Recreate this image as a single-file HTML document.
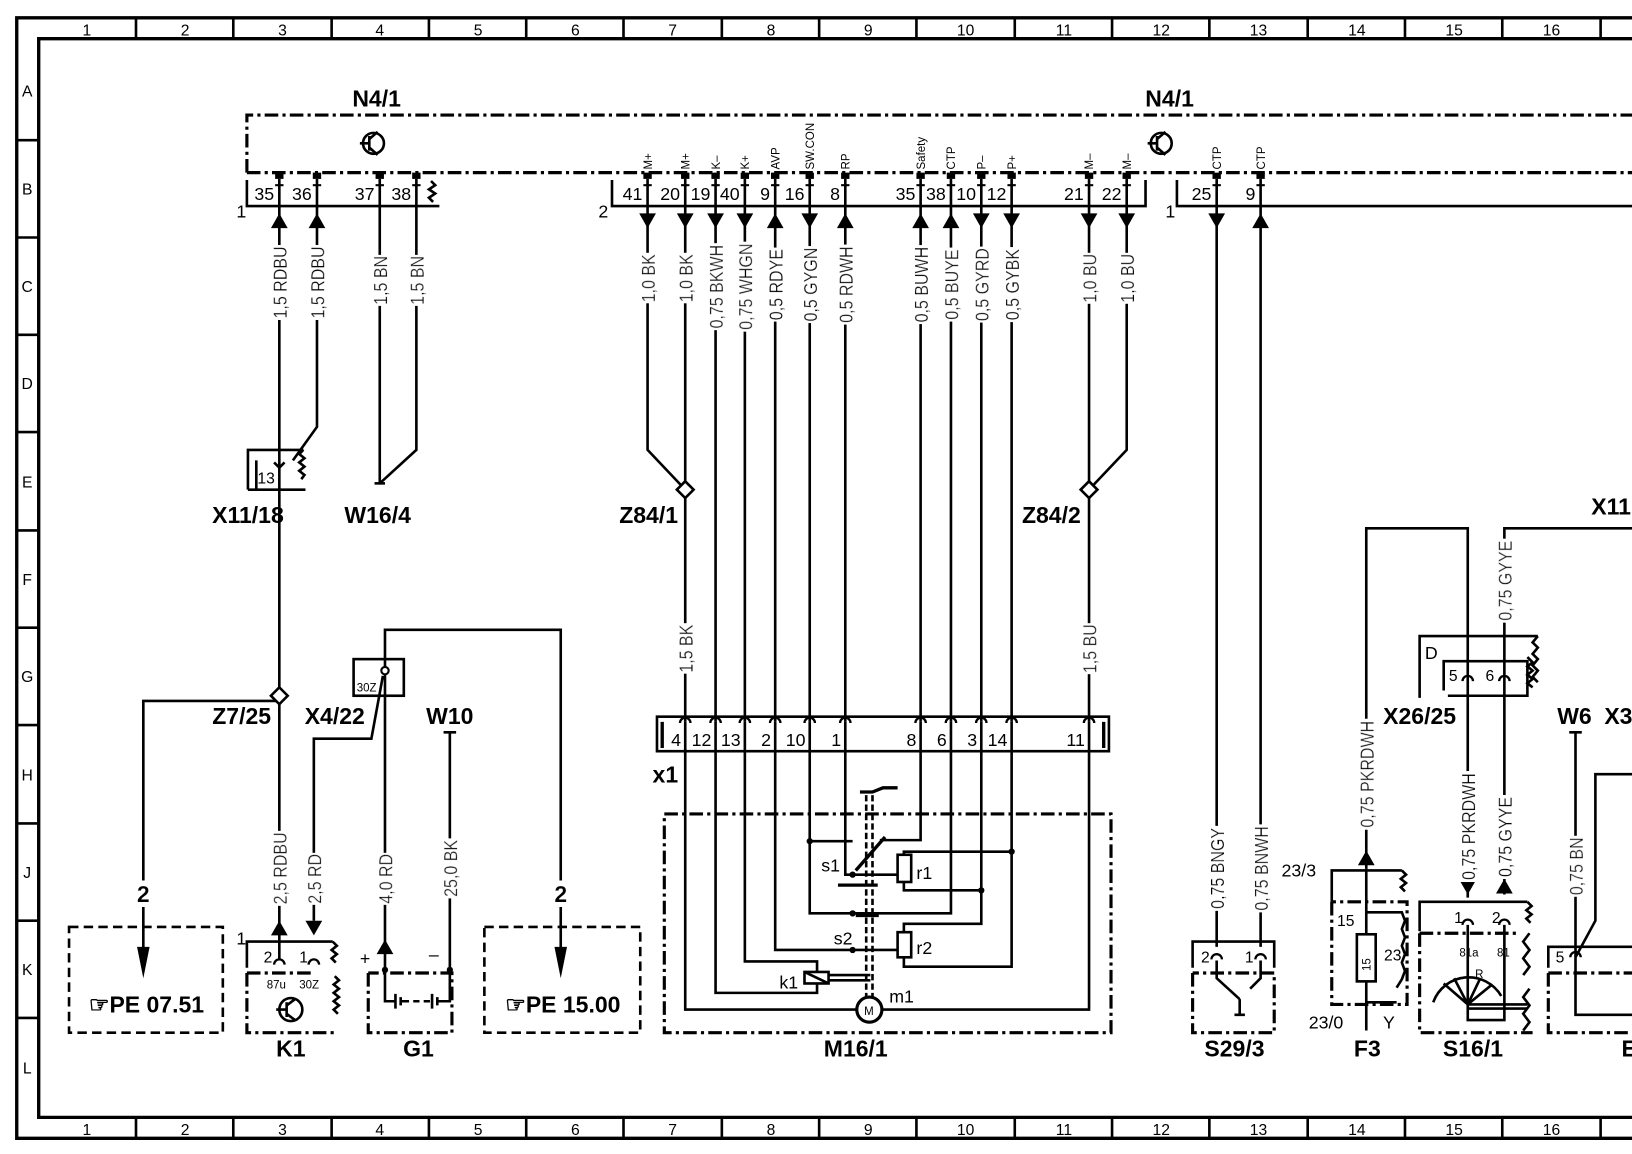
<!DOCTYPE html>
<html><head><meta charset="utf-8"><style>
html,body{margin:0;padding:0;background:#fff;width:1632px;height:1154px;overflow:hidden}
svg{display:block}
text{font-family:"Liberation Sans Narrow","Liberation Sans",sans-serif;fill:#000}
.s{font-size:15px}
.m{font-size:17px}
.b{font-size:22px;font-weight:bold}
.w{font-size:18px}
.tiny{font-size:11px}
.l{stroke:#000;stroke-width:2.5;fill:none}
.f{stroke:#000;stroke-width:3.2;fill:none}
.dd{stroke:#000;stroke-width:3;fill:none;stroke-dasharray:13 4 3 4}
.ds{stroke:#000;stroke-width:2.5;fill:none;stroke-dasharray:9 5}
</style></head><body>
<svg width="1632" height="1154" viewBox="0 0 1560 1103" preserveAspectRatio="none" xmlns="http://www.w3.org/2000/svg">
<defs>
<filter id="bg" x="-0.02" y="0" width="1.04" height="1"><feFlood flood-color="#fff"/><feComposite in="SourceGraphic"/></filter>
<polygon id="tu" points="-8,7 8,7 0,-7" fill="#000"/>
<polygon id="td" points="-8,-7 8,-7 0,7" fill="#000"/>
<g id="pin"><rect x="-4" y="-2" width="8" height="6" fill="#000"/><line x1="0" y1="4" x2="0" y2="30" stroke="#000" stroke-width="2.5"/><line x1="-4" y1="10" x2="4" y2="10" stroke="#000" stroke-width="2"/></g>
<path id="arc" d="M-5,5 A5,5 0 0 1 5,5" fill="none" stroke="#000" stroke-width="2.2"/>
<polygon id="dia" points="0,-8 8,0 0,8 -8,0" fill="#fff" stroke="#000" stroke-width="2.5"/>
</defs>
<rect width="1560" height="1103" fill="#fff"/>
<path class="f" d="M1600,17 H16 V1088 H1600"/>
<path class="f" d="M1600,37 H37 V1068 H1600"/>
<g class="l">
<path d="M130,17V37M223,17V37M317,17V37M410,17V37M503,17V37M596,17V37M690,17V37M783,17V37M876,17V37M970,17V37M1063,17V37M1156,17V37M1250,17V37M1343,17V37M1436,17V37M1530,17V37"/>
<path d="M130,1068V1088M223,1068V1088M317,1068V1088M410,1068V1088M503,1068V1088M596,1068V1088M690,1068V1088M783,1068V1088M876,1068V1088M970,1068V1088M1063,1068V1088M1156,1068V1088M1250,1068V1088M1343,1068V1088M1436,1068V1088M1530,1068V1088"/>
<path d="M16,134H37M16,227H37M16,320H37M16,413H37M16,507H37M16,600H37M16,693H37M16,787H37M16,880H37M16,973H37"/>
</g>
<g class="s" text-anchor="middle">
<text x="83" y="34">1</text><text x="177" y="34">2</text><text x="270" y="34">3</text><text x="363" y="34">4</text><text x="457" y="34">5</text><text x="550" y="34">6</text><text x="643" y="34">7</text><text x="737" y="34">8</text><text x="830" y="34">9</text><text x="923" y="34">10</text><text x="1017" y="34">11</text><text x="1110" y="34">12</text><text x="1203" y="34">13</text><text x="1297" y="34">14</text><text x="1390" y="34">15</text><text x="1483" y="34">16</text>
<text x="83" y="1085">1</text><text x="177" y="1085">2</text><text x="270" y="1085">3</text><text x="363" y="1085">4</text><text x="457" y="1085">5</text><text x="550" y="1085">6</text><text x="643" y="1085">7</text><text x="737" y="1085">8</text><text x="830" y="1085">9</text><text x="923" y="1085">10</text><text x="1017" y="1085">11</text><text x="1110" y="1085">12</text><text x="1203" y="1085">13</text><text x="1297" y="1085">14</text><text x="1390" y="1085">15</text><text x="1483" y="1085">16</text>
<text x="26" y="92">A</text><text x="26" y="186">B</text><text x="26" y="279">C</text><text x="26" y="372">D</text><text x="26" y="466">E</text><text x="26" y="559">F</text><text x="26" y="652">G</text><text x="26" y="746">H</text><text x="26" y="839">J</text><text x="26" y="932">K</text><text x="26" y="1026">L</text>
</g>

<path class="dd" d="M236,165 V110 H1560"/>
<path class="dd" d="M236,165 H1560"/>
<text class="b" x="360" y="102" text-anchor="middle">N4/1</text>
<text class="b" x="1118" y="102" text-anchor="middle">N4/1</text>
<g class="l"><circle cx="357" cy="137" r="10"/><path d="M344,137h9M353,130v14M353,133l8,-7M353,141l8,7"/>
<circle cx="1110" cy="137" r="10"/><path d="M1097,137h9M1106,130v14M1106,133l8,-7M1106,141l8,7"/></g>
<path class="l" d="M236,172V197H420M585,172V197H1095V172M1125,172V197H1560"/>
<text class="m" x="226" y="208">1</text><text class="m" x="572" y="208">2</text><text class="m" x="1114" y="208">1</text>
<path class="l" d="M412,173l4,4-6,4 6,4-6,4 4,4"/>
<g>
<use href="#pin" x="267" y="167"/><use href="#pin" x="303" y="167"/><use href="#pin" x="363" y="167"/><use href="#pin" x="398" y="167"/>
<use href="#pin" x="619" y="167"/><use href="#pin" x="655" y="167"/><use href="#pin" x="684" y="167"/><use href="#pin" x="712" y="167"/><use href="#pin" x="741" y="167"/><use href="#pin" x="774" y="167"/><use href="#pin" x="808" y="167"/><use href="#pin" x="880" y="167"/><use href="#pin" x="909" y="167"/><use href="#pin" x="938" y="167"/><use href="#pin" x="967" y="167"/><use href="#pin" x="1041" y="167"/><use href="#pin" x="1077" y="167"/>
<use href="#pin" x="1163" y="167"/><use href="#pin" x="1205" y="167"/>
</g>
<g class="m" text-anchor="end">
<text x="262" y="191">35</text><text x="298" y="191">36</text><text x="358" y="191">37</text><text x="393" y="191">38</text>
<text x="614" y="191">41</text><text x="650" y="191">20</text><text x="679" y="191">19</text><text x="707" y="191">40</text><text x="736" y="191">9</text><text x="769" y="191">16</text><text x="803" y="191">8</text><text x="875" y="191">35</text><text x="904" y="191">38</text><text x="933" y="191">10</text><text x="962" y="191">12</text><text x="1036" y="191">21</text><text x="1072" y="191">22</text><text x="1158" y="191">25</text><text x="1200" y="191">9</text>
</g>
<g class="tiny">
<text transform="translate(623,162) rotate(-90)">M+</text><text transform="translate(659,162) rotate(-90)">M+</text><text transform="translate(688,162) rotate(-90)">K–</text><text transform="translate(716,162) rotate(-90)">K+</text><text transform="translate(745,162) rotate(-90)">AVP</text><text transform="translate(778,162) rotate(-90)">SW.CON</text><text transform="translate(812,162) rotate(-90)">RP</text><text transform="translate(884,162) rotate(-90)">Safety</text><text transform="translate(913,162) rotate(-90)">CTP</text><text transform="translate(942,162) rotate(-90)">P–</text><text transform="translate(971,162) rotate(-90)">P+</text><text transform="translate(1045,162) rotate(-90)">M–</text><text transform="translate(1081,162) rotate(-90)">M–</text><text transform="translate(1167,162) rotate(-90)">CTP</text><text transform="translate(1209,162) rotate(-90)">CTP</text>
</g>
<g class="l">
<path d="M267,197V918"/>
<path d="M303,197V408L280,440"/>
<path d="M363,197V462"/>
<path d="M398,197V430L363,462"/>
<path d="M358,462h10"/>
<path d="M619,197V430L655,468"/>
<path d="M655,197V690"/>
<path d="M684,197V690M712,197V690M741,197V690M774,197V690M808,197V690M880,197V690M909,197V690M938,197V690M967,197V690"/>
<path d="M1041,197V690"/>
<path d="M1077,197V430L1041,468"/>
<path d="M1163,197V905M1205,197V905"/>
</g>
<g>
<use href="#tu" x="267" y="211"/><use href="#tu" x="303" y="211"/>
<use href="#td" x="619" y="211"/><use href="#td" x="655" y="211"/><use href="#td" x="684" y="211"/><use href="#td" x="712" y="211"/><use href="#tu" x="741" y="211"/><use href="#td" x="774" y="211"/><use href="#tu" x="808" y="211"/><use href="#tu" x="880" y="211"/><use href="#tu" x="909" y="211"/><use href="#td" x="938" y="211"/><use href="#td" x="967" y="211"/><use href="#td" x="1041" y="211"/><use href="#td" x="1077" y="211"/><use href="#td" x="1163" y="211"/><use href="#tu" x="1205" y="211"/>
</g>
<path class="l" d="M237,468V430H290M237,468H292M245,440V468"/>
<path class="l" d="M290,430l-4,4 5,4-5,4 5,4-5,4 5,4-3,4"/>
<path class="l" d="M262,442l5,5 5,-5"/>
<text class="s" x="246" y="462">13</text>
<text class="b" x="237" y="500" text-anchor="middle">X11/18</text>
<text class="b" x="361" y="500" text-anchor="middle">W16/4</text>
<use href="#dia" x="655" y="468"/><use href="#dia" x="1041" y="468"/>
<text class="b" x="620" y="500" text-anchor="middle">Z84/1</text>
<text class="b" x="1005" y="500" text-anchor="middle">Z84/2</text>
<path class="l" d="M267,670H137V920"/>
<use href="#dia" x="267" y="665"/>
<polygon points="131,905 143,905 137,935" fill="#000"/>
<text class="b" x="231" y="692" text-anchor="middle">Z7/25</text>
<rect class="ds" x="66" y="886" width="147" height="101"/>
<text class="b" x="140" y="968" text-anchor="middle">☞PE  07.51</text>
<rect class="l" x="338" y="630" width="48" height="35"/>
<text class="tiny" x="341" y="661">30Z</text>
<circle cx="368" cy="641" r="3.5" fill="#fff" stroke="#000" stroke-width="2"/>
<path class="l" d="M368,637V602H536V920M368,645V925M366,646L355,706H300V880"/>
<polygon points="530,905 542,905 536,935" fill="#000"/>
<rect class="ds" x="463" y="886" width="149" height="101"/>
<text class="b" x="538" y="968" text-anchor="middle">☞PE  15.00</text>
<text class="b" x="320" y="692" text-anchor="middle">X4/22</text>
<text class="b" x="430" y="692" text-anchor="middle">W10</text>
<path class="l" d="M424,700h12M430,700V928"/>
<use href="#tu" x="267" y="887"/><use href="#td" x="300" y="887"/>
<path class="l" d="M236,925V900H318"/>
<path class="l" d="M318,900l4,4-5,4 5,4-5,4 4,4M320,933l4,4-5,4 5,4-5,4 5,4-5,4 5,4-5,4 4,4"/>
<text class="m" x="226" y="903">1</text>
<text class="s" x="252" y="920">2</text><text class="s" x="286" y="920">1</text>
<use href="#arc" x="267" y="917"/><use href="#arc" x="300" y="917"/>
<path class="dd" d="M236,930V987H322M236,930H300"/>
<text class="tiny" x="255" y="945">87u</text><text class="tiny" x="286" y="945">30Z</text>
<circle class="l" cx="278" cy="965" r="11"/><path class="l" d="M264,965h10M274,958v14M274,961l8,-6M274,969l8,6"/>
<text class="b" x="278" y="1010" text-anchor="middle">K1</text>
<use href="#tu" x="368" y="905"/>
<text class="m" x="344" y="922">+</text><text class="m" x="410" y="918">–</text>
<path class="dd" d="M352,930V987H432V930H352"/>
<path class="l" d="M368,925V957H378M378,950v14M383,953v8M383,957h8M395,957h6M405,957h6M413,950v14M418,953v8M418,957H430V925"/>
<circle cx="368" cy="927" r="3" fill="#000"/><circle cx="430" cy="927" r="3" fill="#000"/>
<text class="b" x="400" y="1010" text-anchor="middle">G1</text>
<rect class="l" x="628" y="685" width="432" height="33"/>
<path class="f" d="M633,690V715M1055,690V715"/>
<g><use href="#arc" x="655" y="686"/><use href="#arc" x="684" y="686"/><use href="#arc" x="712" y="686"/><use href="#arc" x="741" y="686"/><use href="#arc" x="774" y="686"/><use href="#arc" x="808" y="686"/><use href="#arc" x="880" y="686"/><use href="#arc" x="909" y="686"/><use href="#arc" x="938" y="686"/><use href="#arc" x="967" y="686"/><use href="#arc" x="1041" y="686"/></g>
<g class="m" text-anchor="end"><text x="651" y="713">4</text><text x="680" y="713">12</text><text x="708" y="713">13</text><text x="737" y="713">2</text><text x="770" y="713">10</text><text x="804" y="713">1</text><text x="876" y="713">8</text><text x="905" y="713">6</text><text x="934" y="713">3</text><text x="963" y="713">14</text><text x="1037" y="713">11</text></g>
<text class="b" x="636" y="748" text-anchor="middle">x1</text>
<path class="dd" d="M635,778H1062V987H635Z"/>
<g class="l">
<path d="M655,690V965H819M1041,690V965H843"/>
<path d="M684,690V949H781V940M712,690V919H781V929"/>
<path d="M741,690V908H858M774,690V873H909V690M774,804H815M808,690V836H858M880,690V803H841"/>
<path d="M938,690V883H864V891M938,851H864V843M967,690V924H864V915M967,814H864V817"/>
<rect x="858" y="817" width="13" height="26"/><rect x="858" y="891" width="13" height="24"/>
<rect x="769" y="929" width="23" height="11"/><path d="M769,929l23,11"/>
<path d="M792,932h40M792,937h40"/>
<path d="M828,760V953M834,760V953" stroke-dasharray="6 3"/>
<circle cx="831" cy="965" r="12" stroke-width="3"/>
</g>
<path class="f" d="M818,832L846,800M801,846H839M818,875H840M822,757h12l10,-4h14"/>
<circle cx="774" cy="804" r="3" fill="#000"/><circle cx="938" cy="851" r="3" fill="#000"/><circle cx="967" cy="814" r="3" fill="#000"/><circle cx="815" cy="836" r="3" fill="#000"/><circle cx="815" cy="908" r="3" fill="#000"/><circle cx="815" cy="873" r="3" fill="#000"/>
<text class="tiny" x="826" y="970">M</text>
<text class="m" x="785" y="833">s1</text><text class="m" x="797" y="903">s2</text><text class="m" x="876" y="840">r1</text><text class="m" x="876" y="912">r2</text><text class="m" x="745" y="945">k1</text><text class="m" x="850" y="958">m1</text>
<text class="b" x="818" y="1010" text-anchor="middle">M16/1</text>
<path class="l" d="M1140,925V900H1218V925"/>
<use href="#arc" x="1163" y="912"/><use href="#arc" x="1205" y="912"/>
<text class="s" x="1148" y="920">2</text><text class="s" x="1190" y="920">1</text>
<path class="dd" d="M1140,930V987H1218V930H1140"/>
<path class="l" d="M1163,918V935L1185,955M1205,918V935L1195,945M1185,955V970M1180,970h10"/>
<text class="b" x="1180" y="1010" text-anchor="middle">S29/3</text>
<path class="l" d="M1306,830V505H1403V858M1438,855V505H1560"/>
<text class="b" x="1540" y="492" text-anchor="middle">X11</text>
<path class="l" d="M1357,667V608H1470M1380,660V632H1460V665H1384"/>
<path class="l" d="M1460,628l5,5-5,4 5,4-5,4 5,4-5,4 5,4M1470,608l-5,6 5,5-5,6 5,5-5,6 5,5-5,6 5,5"/>
<use href="#arc" x="1403" y="646"/><use href="#arc" x="1438" y="646"/>
<text class="m" x="1362" y="630">D</text>
<text class="s" x="1385" y="651">5</text><text class="s" x="1420" y="651">6</text>
<text class="b" x="1357" y="692" text-anchor="middle">X26/25</text>
<text class="b" x="1505" y="692" text-anchor="middle">W6</text><text class="b" x="1547" y="692" text-anchor="middle">X3</text>
<use href="#tu" x="1306" y="820"/>
<path class="l" d="M1273,862V832H1340"/>
<path class="l" d="M1340,832l4,4-5,4 5,4-5,4 4,4"/>
<text class="m" x="1225" y="838">23/3</text>
<path class="dd" d="M1273,862V960H1345V862H1273"/>
<path class="l" d="M1306,830V893M1306,938V985M1306,872H1340l3,8-3,8 3,8-3,8 3,8-3,8 3,8-3,8-5,8M1306,958H1335"/>
<rect class="l" x="1297" y="893" width="18" height="45"/>
<text class="tiny" transform="translate(1310,922) rotate(-90)" text-anchor="middle">15</text>
<text class="s" x="1278" y="885">15</text><text class="s" x="1323" y="918">23</text>
<text class="m" x="1251" y="983">23/0</text><text class="m" x="1322" y="983">Y</text>
<text class="b" x="1307" y="1010" text-anchor="middle">F3</text>
<use href="#td" x="1403" y="848"/><use href="#tu" x="1438" y="847"/>
<path class="l" d="M1357,890V862H1460"/>
<path class="l" d="M1460,862l4,4-5,4 5,4-5,4 4,4M1462,892l-6,8 6,8-6,8 6,8-6,8M1462,945l-6,8 6,8-6,8 6,8-6,8"/>
<text class="s" x="1390" y="882">1</text><text class="s" x="1426" y="882">2</text>
<use href="#arc" x="1403" y="879"/><use href="#arc" x="1438" y="879"/>
<path class="dd" d="M1357,892V987H1465M1357,892H1450"/>
<text class="tiny" x="1395" y="914">81a</text><text class="tiny" x="1431" y="914">81</text><text class="tiny" x="1410" y="935">R</text>
<path class="l" d="M1403,884V955M1438,884V975H1403V955M1370,958A36,36 0 0 1 1435,952M1403,960L1380,940M1403,960L1390,935M1403,960L1415,935M1403,960L1425,942M1403,960H1460M1403,964H1460"/>
<text class="b" x="1408" y="1010" text-anchor="middle">S16/1</text>
<path class="l" d="M1500,700h12M1506,700V970H1560M1480,925V905H1560M1560,740H1525V880L1506,915"/>
<use href="#arc" x="1506" y="910"/>
<text class="s" x="1487" y="920">5</text>
<path class="dd" d="M1480,930V987H1560M1480,930H1560"/>
<text class="b" x="1550" y="1010">E</text>
<!-- wire labels on top -->
<text class="b" x="137" y="862" text-anchor="middle" filter="url(#bg)">2</text>
<text class="b" x="536" y="862" text-anchor="middle" filter="url(#bg)">2</text>
<g class="w" text-anchor="middle">
<text filter="url(#bg)" transform="translate(274,270) rotate(-90) scale(0.85,1)">1,5 RDBU</text><text filter="url(#bg)" transform="translate(310,270) rotate(-90) scale(0.85,1)">1,5 RDBU</text><text filter="url(#bg)" transform="translate(370,268) rotate(-90) scale(0.85,1)">1,5 BN</text><text filter="url(#bg)" transform="translate(405,268) rotate(-90) scale(0.85,1)">1,5 BN</text>
<text filter="url(#bg)" transform="translate(626,266) rotate(-90) scale(0.85,1)">1,0 BK</text><text filter="url(#bg)" transform="translate(662,266) rotate(-90) scale(0.85,1)">1,0 BK</text><text filter="url(#bg)" transform="translate(691,274) rotate(-90) scale(0.85,1)">0,75 BKWH</text><text filter="url(#bg)" transform="translate(719,274) rotate(-90) scale(0.85,1)">0,75 WHGN</text><text filter="url(#bg)" transform="translate(748,272) rotate(-90) scale(0.85,1)">0,5 RDYE</text><text filter="url(#bg)" transform="translate(781,272) rotate(-90) scale(0.85,1)">0,5 GYGN</text><text filter="url(#bg)" transform="translate(815,272) rotate(-90) scale(0.85,1)">0,5 RDWH</text><text filter="url(#bg)" transform="translate(887,272) rotate(-90) scale(0.85,1)">0,5 BUWH</text><text filter="url(#bg)" transform="translate(916,272) rotate(-90) scale(0.85,1)">0,5 BUYE</text><text filter="url(#bg)" transform="translate(945,272) rotate(-90) scale(0.85,1)">0,5 GYRD</text><text filter="url(#bg)" transform="translate(974,272) rotate(-90) scale(0.85,1)">0,5 GYBK</text><text filter="url(#bg)" transform="translate(1048,266) rotate(-90) scale(0.85,1)">1,0 BU</text><text filter="url(#bg)" transform="translate(1084,266) rotate(-90) scale(0.85,1)">1,0 BU</text>
<text filter="url(#bg)" transform="translate(662,620) rotate(-90) scale(0.85,1)">1,5 BK</text><text filter="url(#bg)" transform="translate(1048,620) rotate(-90) scale(0.85,1)">1,5 BU</text>
<text filter="url(#bg)" transform="translate(274,830) rotate(-90) scale(0.85,1)">2,5 RDBU</text><text filter="url(#bg)" transform="translate(307,840) rotate(-90) scale(0.85,1)">2,5 RD</text><text filter="url(#bg)" transform="translate(375,840) rotate(-90) scale(0.85,1)">4,0 RD</text><text filter="url(#bg)" transform="translate(437,830) rotate(-90) scale(0.85,1)">25,0 BK</text>
<text filter="url(#bg)" transform="translate(1170,830) rotate(-90) scale(0.85,1)">0,75 BNGY</text><text filter="url(#bg)" transform="translate(1212,830) rotate(-90) scale(0.85,1)">0,75 BNWH</text>
<text filter="url(#bg)" transform="translate(1445,555) rotate(-90) scale(0.85,1)">0,75 GYYE</text><text filter="url(#bg)" transform="translate(1313,740) rotate(-90) scale(0.85,1)">0,75 PKRDWH</text><text filter="url(#bg)" transform="translate(1410,790) rotate(-90) scale(0.85,1)">0,75 PKRDWH</text><text filter="url(#bg)" transform="translate(1445,800) rotate(-90) scale(0.85,1)">0,75 GYYE</text><text filter="url(#bg)" transform="translate(1513,828) rotate(-90) scale(0.85,1)">0,75 BN</text>
</g>
</svg>
</body></html>
